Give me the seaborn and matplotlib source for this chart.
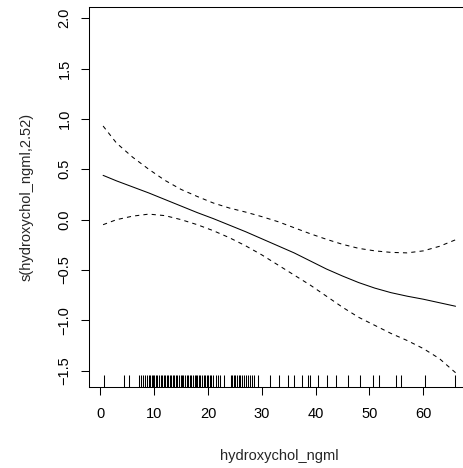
import matplotlib
matplotlib.use("Agg")
import matplotlib.pyplot as plt
import seaborn as sns
import pandas as pd

# ---- data ----
x_grid = [0.5, 3, 6, 9, 12, 15, 18, 21, 24, 27, 30, 33, 36, 39, 42, 45, 48, 51, 54, 57, 60, 63, 66]
fit = [0.44, 0.385, 0.325, 0.265, 0.20, 0.135, 0.07, 0.01, -0.055, -0.12, -0.19, -0.26, -0.33, -0.41, -0.49, -0.56, -0.625, -0.68, -0.725, -0.76, -0.79, -0.825, -0.86]
upper = [0.93, 0.76, 0.62, 0.50, 0.39, 0.30, 0.23, 0.165, 0.115, 0.075, 0.03, -0.02, -0.08, -0.14, -0.195, -0.245, -0.285, -0.31, -0.325, -0.33, -0.31, -0.265, -0.20]
lower = [-0.05, 0.0, 0.035, 0.055, 0.04, 0.0, -0.05, -0.11, -0.18, -0.26, -0.35, -0.45, -0.55, -0.65, -0.76, -0.87, -0.97, -1.05, -1.13, -1.20, -1.28, -1.38, -1.52]
rug_values = [0.6, 4.3, 5.4, 7.1, 7.6, 8.0, 8.3, 8.7, 9.0, 9.2, 9.5, 9.8, 10.0, 10.3, 10.6,
              10.9, 11.2, 11.5, 11.8, 12.0, 12.3, 12.6, 12.9, 13.1, 13.4, 13.7, 14.0, 14.3,
              14.6, 14.9, 15.1, 15.4, 15.7, 16.0, 16.3, 16.6, 16.9, 17.2, 17.5, 17.8, 18.0,
              18.3, 18.6, 18.9, 19.2, 19.5, 19.8, 20.0, 20.3, 20.6, 21.0, 21.4, 21.8, 22.3,
              22.9, 24.2, 24.5, 24.8, 25.1, 25.4, 25.7, 26.0, 26.3, 26.6, 27.0, 27.4, 27.8,
              28.2, 28.6, 29.2, 31.6, 33.1, 34.8, 35.9, 37.5, 38.6, 39.0, 40.5, 42.1, 43.8,
              46.1, 48.3, 50.7, 51.7, 55.0, 55.9, 60.4, 65.9]
x_ticks = [0, 10, 20, 30, 40, 50, 60]
y_ticks = [-1.5, -1.0, -0.5, 0.0, 0.5, 1.0, 1.5, 2.0]
x_label = "hydroxychol_ngml"
y_label = "s(hydroxychol_ngml,2.52)"

sns.set_style("white")
plt.rcParams["font.family"] = ["Liberation Sans", "DejaVu Sans"]
plt.rcParams["axes.unicode_minus"] = True

W, H, DPI = 463, 468, 100
fig = plt.figure(figsize=(W / DPI, H / DPI), dpi=DPI)
left_px, right_px, top_px, bot_px = 89, 469, 7, 386.7
ax = fig.add_axes([left_px / W, (H - bot_px) / H, (right_px - left_px) / W, (bot_px - top_px) / H])

df = pd.DataFrame({"x": x_grid, "fit": fit, "upper": upper, "lower": lower})
lw = 0.75
sns.lineplot(data=df, x="x", y="fit", ax=ax, color="black", linewidth=lw)
sns.lineplot(data=df, x="x", y="upper", ax=ax, color="black", linewidth=lw, linestyle=(0, (4, 4)))
sns.lineplot(data=df, x="x", y="lower", ax=ax, color="black", linewidth=lw, linestyle=(0, (4, 4)))
sns.rugplot(x=rug_values, ax=ax, height=0.03, color="black", linewidth=lw, expand_margins=False)

ax.set_xlim(-2.12, 68.5)
ax.set_ylim(-1.659, 2.112)
ax.set_xticks(x_ticks)
ax.set_yticks(y_ticks)
ax.set_xticklabels([str(t) for t in x_ticks])
ax.set_yticklabels([f"{t:.1f}".replace("-", "\u2212") for t in y_ticks], rotation=90, va="center")
ax.tick_params(axis="both", direction="out", length=5.5, width=0.75, color="black",
               labelsize=10.5, labelcolor="black", left=True, bottom=True)
ax.tick_params(axis="x", pad=9)
ax.tick_params(axis="y", pad=7)
for s in ax.spines.values():
    s.set_color("black")
    s.set_linewidth(0.75)
ax.set_xlabel(x_label, fontsize=10.5, labelpad=20)
ax.set_ylabel(y_label, fontsize=10.5, labelpad=17)
ax.grid(False)

fig.savefig("out.png", dpi=DPI)
